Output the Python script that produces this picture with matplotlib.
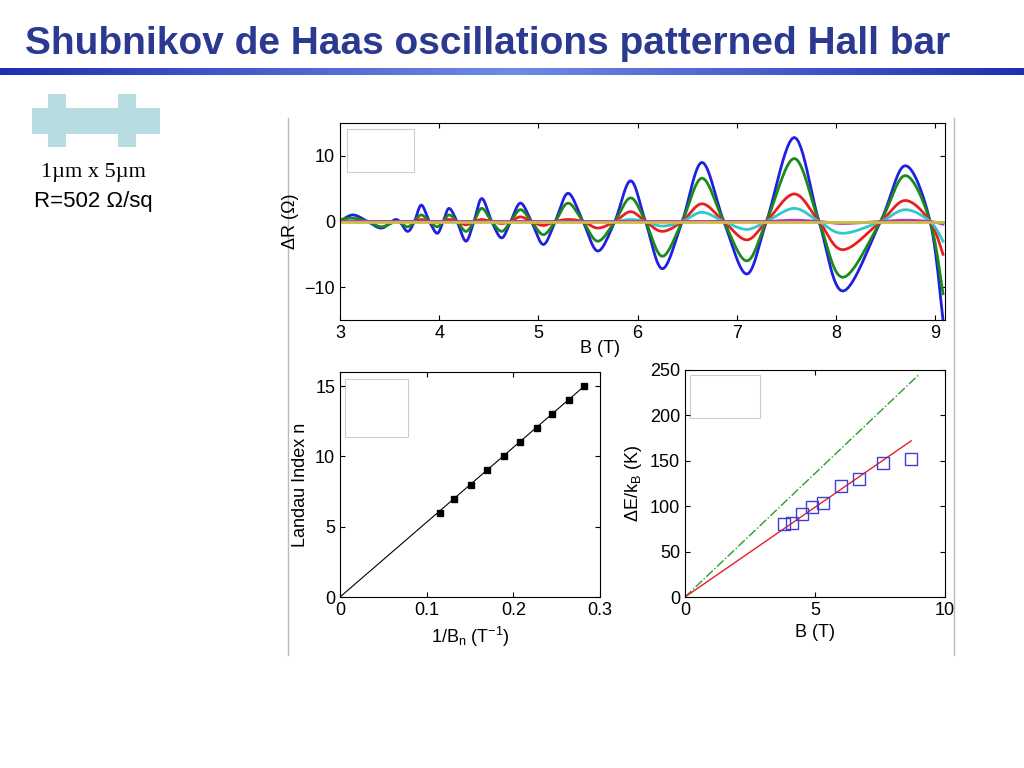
import numpy as np
import matplotlib
matplotlib.use('agg')
import matplotlib.pyplot as plt
from matplotlib.patches import Rectangle

# top panel: extrema / zero crossings
b_pts = [3.0, 3.13, 3.28, 3.42, 3.57, 3.68, 3.75, 3.82, 3.9, 3.98, 4.04, 4.1, 4.18, 4.27,
         4.35, 4.43, 4.53, 4.63, 4.72, 4.82, 4.93, 5.05, 5.17, 5.3, 5.45, 5.6, 5.77, 5.93,
         6.08, 6.25, 6.45, 6.65, 6.87, 7.1, 7.3, 7.58, 7.83, 8.07, 8.45, 8.7, 8.95, 9.08]
dr_blue = [0, 1, 0, -1, 0.3, -1.5, 0, 2.5, 0, -1.8, 0, 2, 0, -3, 0, 3.5, 0, -2.5, 0, 2.8, 0,
           -3.5, 0, 4.3, 0, -4.5, 0, 6.2, 0, -7.2, 0, 9, 0, -8, 0, 12.8, 0, -10.6, 0, 8.5, 0, -15]
dr_green = [0.3, 0.5, 0, -0.8, 0, -0.8, 0, 1, 0, -0.8, 0, 1, 0, -1.5, 0, 2, 0, -1.5, 0, 1.8, 0,
            -2, 0, 2.8, 0, -3, 0, 3.6, 0, -5.3, 0, 6.6, 0, -6, 0, 9.6, 0, -8.5, 0, 7, 0, -11]
dr_red = [0, 0, 0, 0, 0, 0, 0, 0.3, 0, -0.2, 0, 0.3, 0, -0.5, 0, 0.3, 0, -0.3, 0, 0.7, 0,
          -0.6, 0, 0.3, 0, -1, 0, 1.5, 0, -1.5, 0, 2.7, 0, -2.8, 0, 4.2, 0, -4.3, 0, 3.2, 0, -5]
dr_cyan = [0] * 27 + [0.3, 0, -0.7, 0, 1.4, 0, -1.2, 0, 2, 0, -1.8, 0, 1.8, 0, -3]
dr_magenta = [0] * 35 + [0.2, 0, -0.3, 0, 0.2, 0, -0.4]
dr_yellow = [0] * 42

# Landau index fan
inv_b = [0.115, 0.132, 0.151, 0.170, 0.189, 0.208, 0.227, 0.245, 0.264, 0.282]
landau_n = [6, 7, 8, 9, 10, 11, 12, 13, 14, 15]

# gap vs field
gap_b = [3.8, 4.1, 4.5, 4.9, 5.3, 6.0, 6.7, 7.6, 8.7]
gap_k = [80, 82, 91, 99, 104, 122, 130, 148, 152]
fit_b = [0, 8.7]
fit_k = [0, 172]
th_b = [0, 9.0]
th_k = [0, 245]


def smooth(x, y, n=12):
    # catmull-rom through the read points
    x = np.asarray(x, float); y = np.asarray(y, float)
    px = np.r_[x[0], x, x[-1]]; py = np.r_[y[0], y, y[-1]]
    xs, ys = [], []
    t = np.linspace(0, 1, n, endpoint=False)
    for i in range(1, len(px) - 2):
        for p, out in ((px, xs), (py, ys)):
            p0, p1, p2, p3 = p[i - 1], p[i], p[i + 1], p[i + 2]
            out.extend(0.5 * (2 * p1 + (-p0 + p2) * t + (2 * p0 - 5 * p1 + 4 * p2 - p3) * t**2
                              + (-p0 + 3 * p1 - 3 * p2 + p3) * t**3))
    xs.append(x[-1]); ys.append(y[-1])
    return xs, ys


plt.rcParams['font.family'] = ['Liberation Sans', 'DejaVu Sans']
fig = plt.figure(figsize=(10.24, 7.68), dpi=100)
W, H = 1024, 768


def ax_at(x0, y0, x1, y1):
    return fig.add_axes([x0 / W, 1 - y1 / H, (x1 - x0) / W, (y1 - y0) / H])


fig.text(25 / W, 1 - 44 / H, 'Shubnikov de Haas oscillations patterned Hall bar',
         fontsize=28, fontweight='bold', color='#2B3990', va='center')
bar = fig.add_axes([0, 1 - 75 / H, 1, 7 / H])
bar.imshow(np.linspace(0, 1, 256)[None, :], aspect='auto',
           cmap=matplotlib.colors.LinearSegmentedColormap.from_list('g', ['#1F2FB0', '#6E8BE8', '#1F2FB0']))
bar.axis('off')

# hall bar sketch
hb = fig.add_axes([0, 0, 1, 1]); hb.axis('off'); hb.set_xlim(0, W); hb.set_ylim(H, 0)
c = '#B7DDE2'
hb.add_patch(Rectangle((32, 108), 128, 26, color=c, lw=0))
hb.add_patch(Rectangle((48, 94), 18, 53, color=c, lw=0))
hb.add_patch(Rectangle((118, 94), 18, 53, color=c, lw=0))
hb.text(93, 172, '1\u00b5m x 5\u00b5m', fontsize=16, family='Liberation Serif', ha='center', va='center')
hb.text(93, 201, 'R=502 \u03a9/sq', fontsize=16, ha='center', va='center')
hb.plot([288, 288], [118, 655], color='#BBBBBB', lw=1)
hb.plot([954, 954], [118, 655], color='#BBBBBB', lw=1)

top = ax_at(340, 123, 945, 320)
for vals, col in ((dr_blue, '#2020E0'), (dr_green, '#1A8A1A'), (dr_red, '#E82020'),
                  (dr_cyan, '#30C8C8'), (dr_magenta, '#C030C0'), (dr_yellow, '#C8C040')):
    xs, ys = smooth(b_pts, vals)
    top.plot(xs, ys, color=col, lw=2)
top.set_xlim(3, 9.1); top.set_ylim(-15, 15)
top.set_xticks([3, 4, 5, 6, 7, 8, 9]); top.set_yticks([-10, 0, 10])
top.set_xlabel('B (T)', fontsize=13, labelpad=0)
top.xaxis.set_label_coords(0.43, -0.1)
top.set_ylabel('\u0394R (\u03a9)', fontsize=13)
top.add_patch(Rectangle((0.012, 0.75), 0.11, 0.22, transform=top.transAxes,
                        fill=False, ec='#CCCCCC', lw=0.8))

bl = ax_at(340, 372, 600, 597)
bl.plot([0, inv_b[-1]], [0, landau_n[-1]], color='k', lw=0.8)
bl.plot(inv_b, landau_n, 's', color='k', ms=4)
bl.set_xlim(0, 0.3); bl.set_ylim(0, 16)
bl.set_xticks([0, 0.1, 0.2, 0.3]); bl.set_yticks([0, 5, 10, 15])
bl.set_xticklabels(['0', '0.1', '0.2', '0.3'])
bl.set_xlabel('1/B$_\\mathregular{n}$ (T$^{\\mathregular{-1}}$)', fontsize=13)
bl.set_ylabel('Landau Index n', fontsize=13)
bl.add_patch(Rectangle((0.02, 0.71), 0.24, 0.26, transform=bl.transAxes,
                       fill=False, ec='#CCCCCC', lw=0.8))

br = ax_at(685, 370, 945, 597)
br.plot(th_b, th_k, '-.', color='#2A9A2A', lw=1)
br.plot(fit_b, fit_k, color='#E82020', lw=1)
br.plot(gap_b, gap_k, 's', mfc='none', mec='#4040D0', ms=8)
br.set_xlim(0, 10); br.set_ylim(0, 250)
br.set_xticks([0, 5, 10]); br.set_yticks([0, 50, 100, 150, 200, 250])
br.set_xlabel('B (T)', fontsize=13)
br.set_ylabel('\u0394E/k$_\\mathregular{B}$ (K)', fontsize=13)
br.add_patch(Rectangle((0.02, 0.79), 0.27, 0.19, transform=br.transAxes,
                       fill=False, ec='#CCCCCC', lw=0.8))

for a in (top, bl, br):
    a.tick_params(direction='in', labelsize=13, top=True, right=True)

fig.savefig('out.png', dpi=100)
